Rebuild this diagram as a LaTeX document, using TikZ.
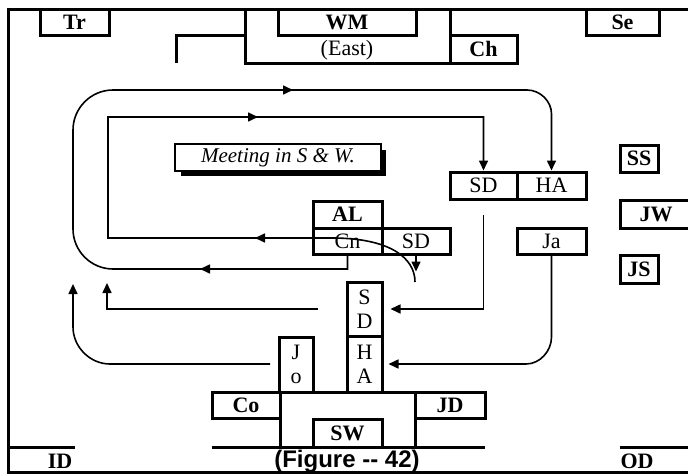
\documentclass[tikz,border=0pt]{standalone}
\usepackage{fontspec}
\setmainfont{Liberation Serif}
\newfontfamily\arialfont{Liberation Sans}
\usetikzlibrary{arrows.meta}
\begin{document}
\begin{tikzpicture}[x=1pt,y=-1pt,
  bx/.style={draw, line width=3pt, inner sep=0pt, font=\fontsize{22}{24}\selectfont},
  bxb/.style={bx, font=\fontsize{22}{24}\selectfont\bfseries},
  lbl/.style={inner sep=0pt, font=\fontsize{22}{24}\selectfont},
  lblb/.style={inner sep=0pt, font=\fontsize{22}{24}\selectfont\bfseries},
  wall/.style={line width=3pt},
  conn/.style={line width=1.6pt},
  tip/.style={-{Triangle[length=10pt,width=9pt]}}
]
\useasboundingbox (0,0) rectangle (688,474);
% frame
\draw[wall] (690,9) -- (8,9) -- (8,472) -- (690,472);
% top row
\node[bxb, minimum width=69pt, minimum height=26pt] (tr) at (74.5,22) {Tr};
\draw[wall] (245,9) rectangle (450,63);
\node[bxb, minimum width=138pt, minimum height=26pt] (wm) at (347,22) {WM};
\node[lbl] (east) at (347,50) {(East)};
\node[bxb, minimum width=67pt, minimum height=28pt] (ch) at (483.5,49) {Ch};
\node[bxb, minimum width=73pt, minimum height=26pt] (se) at (622.5,22) {Se};
\draw[wall] (176,63) -- (176,35) -- (245,35);
% meeting box
\fill (181,150) rectangle (386,176);
\node[draw, fill=white, line width=1.3pt, minimum width=206pt, minimum height=27pt, inner sep=0pt,
  font=\fontsize{21}{24}\selectfont\itshape] (meet) at (278,157.5) {Meeting in S \& W.};
% middle boxes
\node[bxb, minimum width=69pt, minimum height=27pt] (al) at (347.5,214.5) {AL};
\node[bx, minimum width=69pt, minimum height=26pt] (cn) at (347.5,241) {Cn};
\node[bx, minimum width=68pt, minimum height=26pt] (sda) at (416,241) {SD};
\node[bx, minimum width=67pt, minimum height=27pt] (sdb) at (483.5,185.5) {SD};
\node[bx, minimum width=69pt, minimum height=27pt] (ha) at (551.5,185.5) {HA};
\node[bx, minimum width=69pt, minimum height=26pt] (ja) at (551.5,241) {Ja};
\node[bxb, minimum width=38pt, minimum height=27pt] (ss) at (639,158.5) {SS};
\node[bxb, minimum width=38pt, minimum height=28pt] (js) at (639,269) {JS};
\draw[wall] (690,200) -- (620,200) -- (620,228) -- (690,228);
\node[lblb] (jw) at (656,214) {JW};
\node[bx, align=center, minimum width=35pt, minimum height=54pt] (sdv) at (364.5,309) {S\\D};
\node[bx, align=center, minimum width=35pt, minimum height=56pt] (hav) at (364.5,364) {H\\A};
\node[bx, align=center, minimum width=34pt, minimum height=55pt] (jo) at (296,364.5) {J\\o};
% bottom structure
\node[bxb, minimum width=68pt, minimum height=26pt] (co) at (246,405) {Co};
\node[bxb, minimum width=70pt, minimum height=26pt] (jd) at (450,405) {JD};
\node[bxb, minimum width=69pt, minimum height=28pt] (sw) at (347.5,433) {SW};
\draw[wall] (280,392) -- (415,392);
\draw[wall] (280,392) -- (280,447);
\draw[wall] (415,392) -- (415,447);
\draw[wall] (212,447) -- (485,447);
\draw[wall] (8,447) -- (75,447);
\draw[wall] (620,447) -- (690,447);
\node[lblb] (id) at (60,461) {ID};
\node[lblb] (od) at (637,461) {OD};
\node[inner sep=0pt, font=\fontsize{24}{26}\selectfont\arialfont\bfseries] (fig) at (347,461) {(Figure -{}- 42)};
% outer loop
\draw[conn, tip] (cn.south) -- (347.5,269) -- (113,269) .. controls (91,269) and (73,251) .. (73,229)
  -- (73,130) .. controls (73,108) and (91,90) .. (113,90) -- (527,90)
  .. controls (540,90) and (551.5,101) .. (551.5,114) -- (ha.north);
\draw[conn, tip] (215,269) -- (200,269);
\draw[conn, tip] (278,90) -- (293,90);
% inner loop
\coordinate (cv) at (415,282);
\draw[conn, tip] (cv) .. controls (415,258) and (390,238) .. (332,238) -- (108,238) -- (108,117)
  -- (483.5,117) -- (sdb.north);
\draw[conn, tip] (270,238) -- (255,238);
\draw[conn, tip] (243,117) -- (258,117);
% other arrows
\draw[conn, tip] (sda.south) -- ++(0,16);
\coordinate (sdl) at (483.5,215);
\draw[conn, tip, shorten >=7pt] (sdl) -- (483.5,309) -- (sdv.east);
\draw[conn, tip, shorten >=5pt] (ja.south) -- (551.5,337) .. controls (551.5,351) and (540,364) .. (526,364) -- (hav.east);
\coordinate (lm) at (318,309);
\draw[conn, tip] (lm) -- (107,309) -- (107,283);
\coordinate (lo) at (270,364);
\draw[conn, tip] (lo) -- (110,364) .. controls (90,364) and (73,347) .. (73,327) -- (73,284);
\end{tikzpicture}
\end{document}
